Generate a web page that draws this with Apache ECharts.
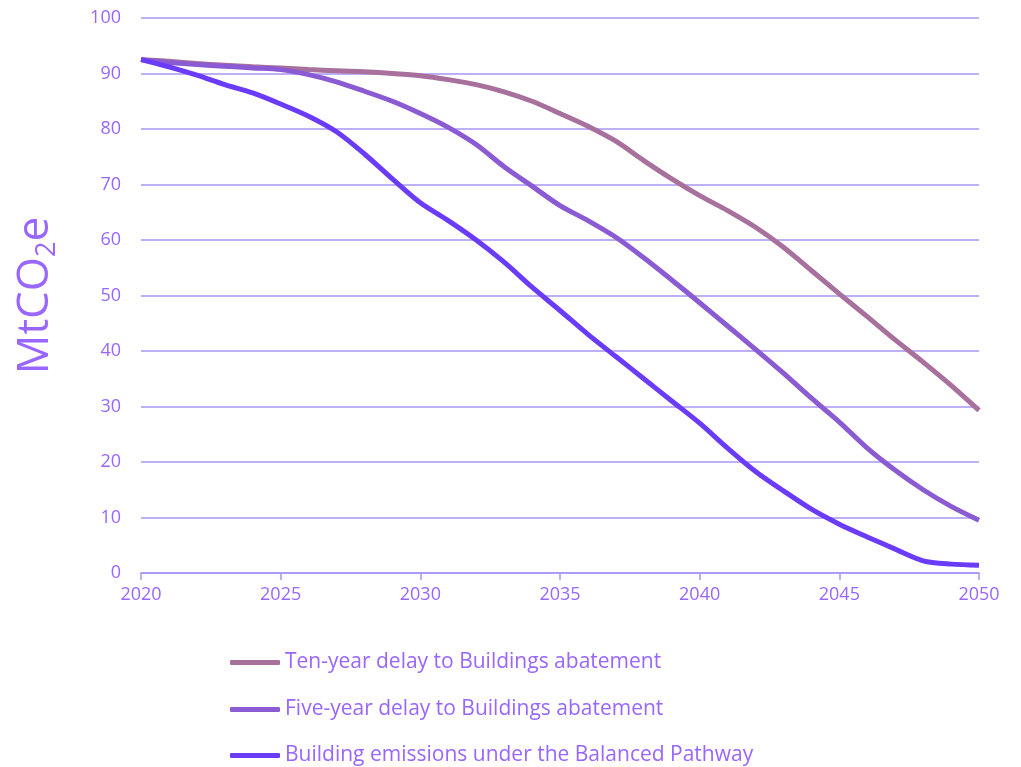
<!DOCTYPE html>
<html>
<head>
<meta charset="utf-8">
<script src="https://cdn.jsdelivr.net/npm/echarts@6/dist/echarts.min.js"></script>
<style>
  html, body { margin: 0; padding: 0; background: #fff; }
  #chart { width: 1021px; height: 767px; }
</style>
</head>
<body>
<div id="chart"></div>
<script>
const years = []
for (let y = 2020; y <= 2050; y++) years.push(y)

// one value per year 2020..2050
const tenYearDelay = [92.5, 92.2, 91.8, 91.5, 91.2, 91.0, 90.7, 90.5, 90.3, 90.0, 89.6,
  88.9, 88.0, 86.7, 85.0, 82.8, 80.5, 77.8, 74.3, 71.0, 68.0,
  65.3, 62.3, 58.7, 54.5, 50.3, 46.2, 42.0, 38.0, 33.8, 29.3]
const fiveYearDelay = [92.5, 92.0, 91.6, 91.3, 91.0, 90.7, 89.8, 88.5, 86.8, 85.0, 82.8,
  80.3, 77.2, 73.2, 69.7, 66.2, 63.5, 60.5, 56.8, 52.8, 48.7,
  44.5, 40.3, 36.0, 31.5, 27.2, 22.5, 18.5, 15.0, 12.0, 9.5]
const balanced = [92.5, 91.2, 89.7, 88.0, 86.5, 84.5, 82.3, 79.5, 75.5, 71.0, 66.7,
  63.5, 60.0, 56.0, 51.5, 47.3, 43.0, 39.0, 35.0, 31.0, 27.0,
  22.5, 18.3, 14.8, 11.5, 8.8, 6.5, 4.3, 2.2, 1.6, 1.4]

const seriesNames = [
  'Ten-year delay to Buildings abatement',
  'Five-year delay to Buildings abatement',
  'Building emissions under the Balanced Pathway'
]
const seriesColors = ['#a8709c', '#8a5bd2', '#6a3cfa']

const textColor = '#9966ff'
const gridColor = '#a994f7'
const font = '"Open Sans", Lato, sans-serif'

const pairs = (vals) => years.map((y, i) => [y, vals[i]])

const chart = echarts.init(document.getElementById('chart'))

// one legend block per row so they stack like the original
const legendTops = [647, 694, 740]
const legends = seriesNames.map((name, i) => ({
  left: 225,
  top: legendTops[i],
  itemWidth: 50,
  itemHeight: 5,
  icon: 'roundRect',
  textStyle: { color: textColor, fontSize: 21, fontFamily: font },
  data: [name]
}))

const option = {
  animation: false,
  textStyle: { fontFamily: font },
  grid: { left: 141, right: 42, top: 18, bottom: 194 },
  legend: legends,
  xAxis: {
    type: 'value',
    min: 2020,
    max: 2050,
    interval: 5,
    axisLine: { lineStyle: { color: gridColor, width: 1.5 } },
    axisTick: { show: true, length: 7, lineStyle: { color: gridColor, width: 1.5 } },
    splitLine: { show: false },
    axisLabel: { color: textColor, fontSize: 18, margin: 13, formatter: v => String(v) }
  },
  yAxis: {
    type: 'value',
    min: 0,
    max: 100,
    interval: 10,
    name: '{a|MtCO}{b|2}{a|e}',
    nameLocation: 'middle',
    nameGap: 80,
    nameRotate: 90,
    nameTextStyle: {
      rich: {
        a: { color: textColor, fontSize: 44, fontFamily: font },
        b: { color: textColor, fontSize: 27, fontFamily: font, padding: [24, 0, 0, 0] }
      }
    },
    axisLine: { show: false },
    axisTick: { show: false },
    splitLine: { lineStyle: { color: gridColor, width: 1.5 } },
    axisLabel: { color: textColor, fontSize: 18, margin: 20 }
  },
  series: seriesNames.map((name, i) => ({
    name,
    type: 'line',
    data: pairs([tenYearDelay, fiveYearDelay, balanced][i]),
    smooth: 0.3,
    showSymbol: false,
    lineStyle: { color: seriesColors[i], width: 5 },
    itemStyle: { color: seriesColors[i] },
    z: 3 + i
  }))
}

chart.setOption(option)
</script>
</body>
</html>
